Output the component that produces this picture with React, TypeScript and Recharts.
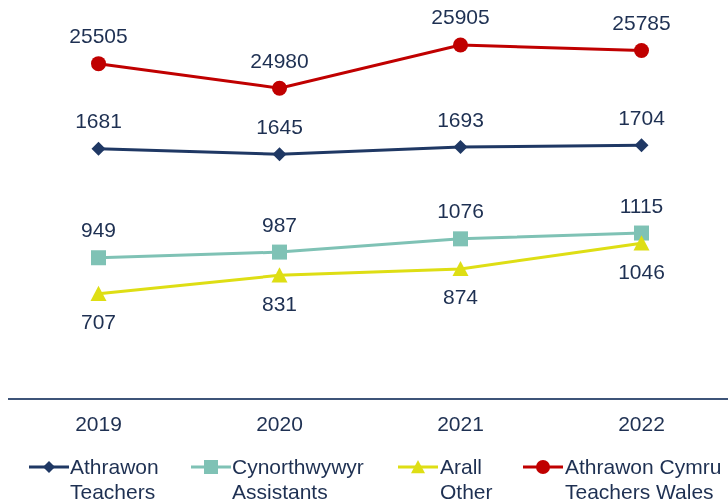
import React from 'react';
import { LineChart, Line, XAxis, YAxis, LabelList } from 'recharts';

const years = ['2019', '2020', '2021', '2022'];
const teachers = [1681, 1645, 1693, 1704];
const assistants = [949, 987, 1076, 1115];
const other = [707, 831, 874, 1046];
const teachersWales = [25505, 24980, 25905, 25785];

const legendTop = ['Athrawon', 'Cynorthwywyr', 'Arall', 'Athrawon Cymru'];
const legendBottom = ['Teachers', 'Assistants', 'Other', 'Teachers Wales'];

const NAVY = '#1F3864';
const TEAL = '#7FC2B5';
const YELLOW = '#DEDE14';
const RED = '#C00000';
const TEXT = '#1E3052';
const FONT = '"Liberation Sans", Arial, sans-serif';

const data = years.map((year, i) => ({
  year,
  teachers: teachers[i],
  assistants: assistants[i],
  other: other[i],
  teachersWales: teachersWales[i],
}));

type Shape = 'diamond' | 'square' | 'triangle' | 'circle';

const marker = (shape: Shape, cx: number, cy: number, s: number, color: string) => {
  switch (shape) {
    case 'diamond':
      return <polygon points={`${cx},${cy - s} ${cx + s},${cy} ${cx},${cy + s} ${cx - s},${cy}`} fill={color} />;
    case 'square':
      return <rect x={cx - s} y={cy - s} width={s * 2} height={s * 2} fill={color} />;
    case 'triangle':
      return <polygon points={`${cx},${cy - s} ${cx + s},${cy + s * 0.9} ${cx - s},${cy + s * 0.9}`} fill={color} />;
    default:
      return <circle cx={cx} cy={cy} r={s} fill={color} />;
  }
};

const makeDot = (shape: Shape, size: number, color: string) => (props: any) => {
  const { cx, cy, index } = props;
  return <g key={`${shape}-${index}`}>{marker(shape, cx, cy, size, color)}</g>;
};

const makeLabel = (dy: number) => (props: any) => {
  const { x, y, value } = props;
  return (
    <text
      x={x}
      y={y + dy}
      textAnchor="middle"
      dominantBaseline="central"
      fill={TEXT}
      fontSize={21}
      fontFamily={FONT}
    >
      {value}
    </text>
  );
};

const YearTick = (props: any) => {
  const { x, y, payload } = props;
  return (
    <text x={x} y={y + 24} textAnchor="middle" dominantBaseline="central" fill={TEXT} fontSize={21} fontFamily={FONT}>
      {payload.value}
    </text>
  );
};

const legendItems: { shape: Shape; color: string; size: number; iconX: number; textX: number }[] = [
  { shape: 'diamond', color: NAVY, size: 6, iconX: 21, textX: 62 },
  { shape: 'square', color: TEAL, size: 7, iconX: 183, textX: 224 },
  { shape: 'triangle', color: YELLOW, size: 7, iconX: 390, textX: 432 },
  { shape: 'circle', color: RED, size: 7, iconX: 515, textX: 557 },
];

export default function App() {
  return (
    <div style={{ position: 'fixed', left: 8, top: 0, width: 720, height: 504, overflow: 'hidden' }}>
      <LineChart width={724} height={504} data={data} margin={{ top: 12, right: 0, left: 0, bottom: 65 }}>
        <XAxis
          dataKey="year"
          height={40}
          padding={{ left: 90.5, right: 90.5 }}
          axisLine={{ stroke: '#3E5478', strokeWidth: 2 }}
          tickLine={false}
          tickSize={0}
          tickMargin={0}
          tick={<YearTick />}
          interval={0}
        />
        <YAxis yAxisId="left" hide domain={[0, 2600]} />
        <YAxis yAxisId="right" orientation="right" hide domain={[18330, 26610]} />
        <Line
          yAxisId="left"
          dataKey="teachers"
          stroke={NAVY}
          strokeWidth={3}
          dot={makeDot('diamond', 7, NAVY)}
          isAnimationActive={false}
        >
          <LabelList dataKey="teachers" content={makeLabel(-28)} />
        </Line>
        <Line
          yAxisId="left"
          dataKey="assistants"
          stroke={TEAL}
          strokeWidth={3}
          dot={makeDot('square', 7.5, TEAL)}
          isAnimationActive={false}
        >
          <LabelList dataKey="assistants" content={makeLabel(-28)} />
        </Line>
        <Line
          yAxisId="left"
          dataKey="other"
          stroke={YELLOW}
          strokeWidth={3}
          dot={makeDot('triangle', 8, YELLOW)}
          isAnimationActive={false}
        >
          <LabelList dataKey="other" content={makeLabel(28)} />
        </Line>
        <Line
          yAxisId="right"
          dataKey="teachersWales"
          stroke={RED}
          strokeWidth={3}
          dot={makeDot('circle', 7.5, RED)}
          isAnimationActive={false}
        >
          <LabelList dataKey="teachersWales" content={makeLabel(-28)} />
        </Line>
      </LineChart>
      {legendItems.map((item, i) => (
        <React.Fragment key={i}>
          <svg
            width={40}
            height={20}
            style={{ position: 'absolute', left: item.iconX, top: 457 }}
          >
            <line x1={0} y1={10} x2={40} y2={10} stroke={item.color} strokeWidth={3} />
            {marker(item.shape, 20, 10, item.size, item.color)}
          </svg>
          <div
            style={{
              position: 'absolute',
              left: item.textX,
              top: 454,
              fontFamily: FONT,
              fontSize: 21,
              lineHeight: '25px',
              color: TEXT,
              whiteSpace: 'nowrap',
            }}
          >
            {legendTop[i]}
            <br />
            {legendBottom[i]}
          </div>
        </React.Fragment>
      ))}
    </div>
  );
}
